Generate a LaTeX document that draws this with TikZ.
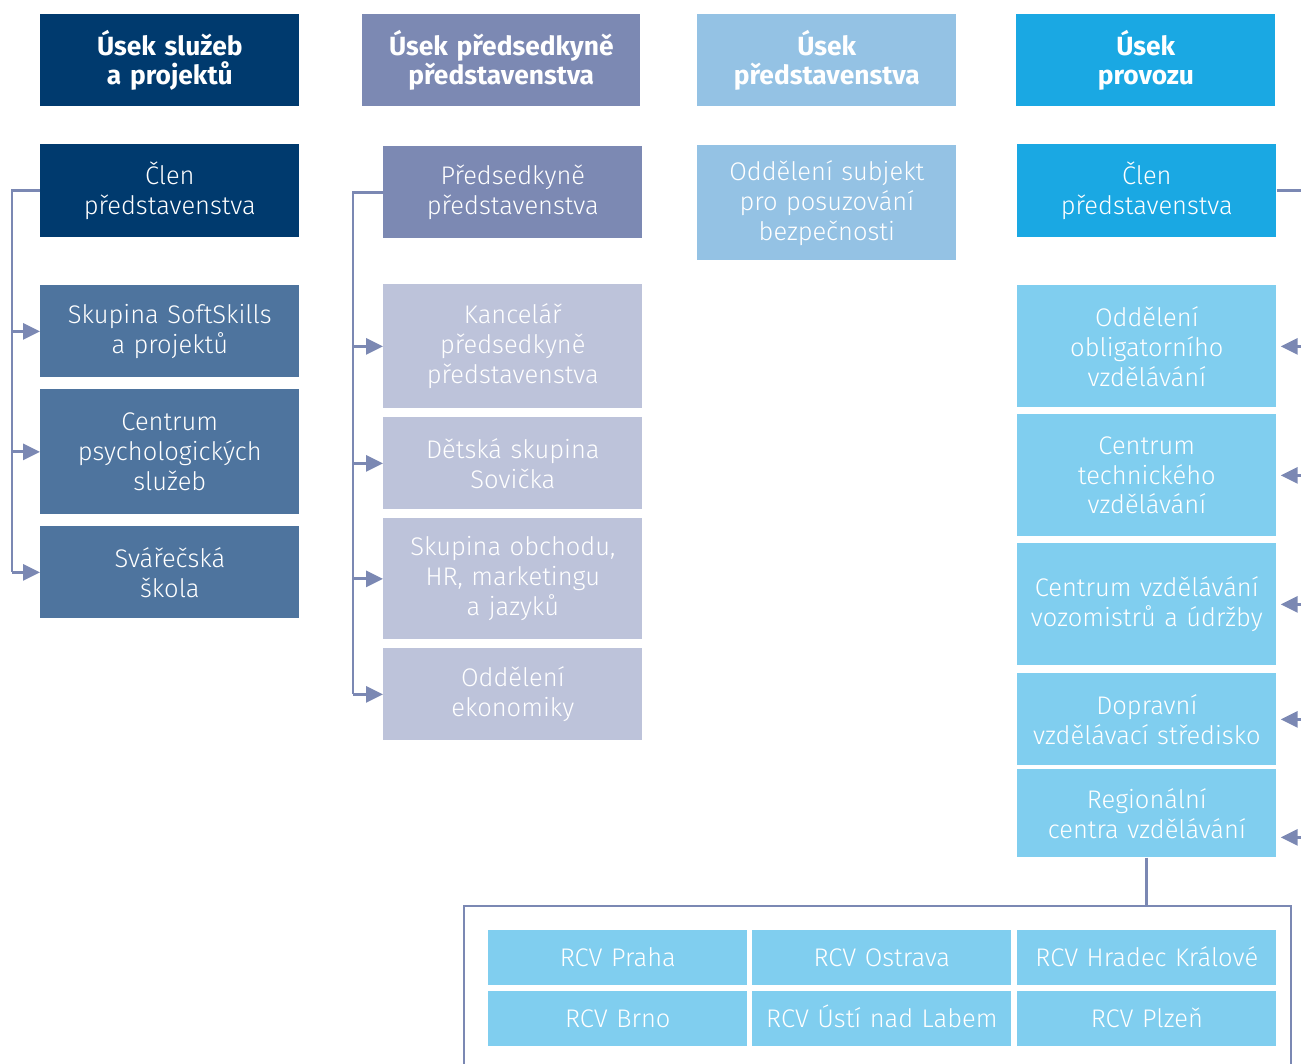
\documentclass[tikz,border=0pt]{standalone}
\usepackage{fontspec}
\setmainfont{Fira Sans Light}[BoldFont={Fira Sans Bold}]
\usetikzlibrary{arrows.meta}
\definecolor{navy}{HTML}{003A6E}
\definecolor{steel}{HTML}{4E749E}
\definecolor{lavhead}{HTML}{7C89B3}
\definecolor{lavlight}{HTML}{BDC3DA}
\definecolor{skyhead}{HTML}{94C2E4}
\definecolor{cyanhead}{HTML}{1AA8E3}
\definecolor{cyanlight}{HTML}{80CEEF}
\definecolor{conn}{HTML}{7B88B3}
\begin{document}
\begin{tikzpicture}[
    x=0.02cm, y=-0.02cm,
    box/.style={anchor=north west, minimum width=5.18cm, text width=5.1cm, align=center,
        inner sep=0pt, text=white, font=\fontsize{14.5}{17}\selectfont},
    head/.style={box, minimum height=1.84cm, font=\bfseries\fontsize{15}{17}\selectfont},
    rcv/.style={box, fill=cyanlight, minimum height=1.1cm, text height=1.25em, text depth=0.26em,
        font=\fontsize{14.5}{17}\selectfont},
    line/.style={draw=conn, line width=1.6pt},
    arr/.style={line, -{Triangle[length=0.34cm, width=0.32cm]}}
]
\useasboundingbox (0,0) rectangle (1301,1063);

% heads
\node [head, fill=navy] (h1) at (40,14) {Úsek služeb\\a projektů};
\node [head, fill=lavhead, minimum width=5.56cm] (h2) at (362,14) {Úsek předsedkyně\\představenstva};
\node [head, fill=skyhead] (h3) at (697,14) {Úsek\\představenstva};
\node [head, fill=cyanhead] (h4) at (1016,14) {Úsek\\provozu};

% column 1
\node [box, fill=navy, minimum height=1.86cm] (clen1) at (40,144) {Člen\\představenstva};
\node [box, fill=steel, minimum height=1.84cm] (soft) at (40,285) {Skupina SoftSkills\\a projektů};
\node [box, fill=steel, minimum height=2.5cm] (psych) at (40,389) {Centrum\\psychologických\\služeb};
\node [box, fill=steel, minimum height=1.84cm] (svar) at (40,526) {Svářečská\\škola};

% column 2
\node [box, fill=lavhead, minimum height=1.84cm] (pred) at (383,146) {Předsedkyně\\představenstva};
\node [box, fill=lavlight, minimum height=2.48cm] (kanc) at (383,284) {Kancelář\\předsedkyně\\představenstva};
\node [box, fill=lavlight, minimum height=1.84cm] (sov) at (383,417) {Dětská skupina\\Sovička};
\node [box, fill=lavlight, minimum height=2.42cm] (obch) at (383,518) {Skupina obchodu,\\HR, marketingu\\a jazyků};
\node [box, fill=lavlight, minimum height=1.84cm] (ekon) at (383,648) {Oddělení\\ekonomiky};

% column 3
\node [box, fill=skyhead, minimum height=2.3cm] (bezp) at (697,145) {Oddělení subjekt\\pro posuzování\\bezpečnosti};

% column 4
\node [box, fill=cyanhead, minimum height=1.86cm] (clen4) at (1017,144) {Člen\\představenstva};
\node [box, fill=cyanlight, minimum height=2.44cm] (obl) at (1017,285) {Oddělení\\obligatorního\\vzdělávání};
\node [box, fill=cyanlight, minimum height=2.44cm] (tech) at (1017,414) {Centrum\\technického\\vzdělávání};
\node [box, fill=cyanlight, minimum height=2.44cm] (vozo) at (1017,543) {Centrum vzdělávání\\vozomistrů a údržby};
\node [box, fill=cyanlight, minimum height=1.84cm] (dopr) at (1017,673) {Dopravní\\vzdělávací středisko};
\node [box, fill=cyanlight, minimum height=1.76cm] (reg) at (1017,769) {Regionální\\centra vzdělávání};

% regional centres
\node [rcv] (praha) at (488,930) {RCV Praha};
\node [rcv] (ostr) at (752,930) {RCV Ostrava};
\node [rcv] (hrad) at (1017,930) {RCV Hradec Králové};
\node [rcv] (brno) at (488,991) {RCV Brno};
\node [rcv] (usti) at (752,991) {RCV Ústí nad Labem};
\node [rcv] (plzen) at (1017,991) {RCV Plzeň};

% connectors
\coordinate (ltrunk) at (12,0);
\coordinate (mtrunk) at (353,0);
\coordinate (rtrunk) at (1315,0);
\coordinate (frame) at (0,906);

\draw [line] (clen1.west) -- (clen1.west -| ltrunk) -- (svar.west -| ltrunk);
\draw [arr] (soft.west -| ltrunk) -- (soft.west);
\draw [arr] (psych.west -| ltrunk) -- (psych.west);
\draw [arr] (svar.west -| ltrunk) -- (svar.west);

\draw [line] (pred.west) -- (pred.west -| mtrunk) -- (ekon.west -| mtrunk);
\draw [arr] (kanc.west -| mtrunk) -- (kanc.west);
\draw [arr] (sov.west -| mtrunk) -- (sov.west);
\draw [arr] (obch.west -| mtrunk) -- (obch.west);
\draw [arr] (ekon.west -| mtrunk) -- (ekon.west);

\draw [line] (clen4.east) -- (clen4.east -| rtrunk) -- ([yshift=-0.48cm]reg.east -| rtrunk);
\draw [arr, shorten >=0.08cm] (obl.east -| rtrunk) -- (obl.east);
\draw [arr, shorten >=0.08cm] (tech.east -| rtrunk) -- (tech.east);
\draw [arr, shorten >=0.08cm] (vozo.east -| rtrunk) -- (vozo.east);
\draw [arr, shorten >=0.08cm] (dopr.east -| rtrunk) -- (dopr.east);
\draw [arr, shorten >=0.08cm] ([yshift=-0.48cm]reg.east -| rtrunk) -- ([yshift=-0.48cm]reg.east);

\draw [line] (reg.south) -- (reg.south |- frame);
\draw [line] (464,1090) -- (464,906) -- (1291,906) -- (1291,1090);
\end{tikzpicture}
\end{document}
